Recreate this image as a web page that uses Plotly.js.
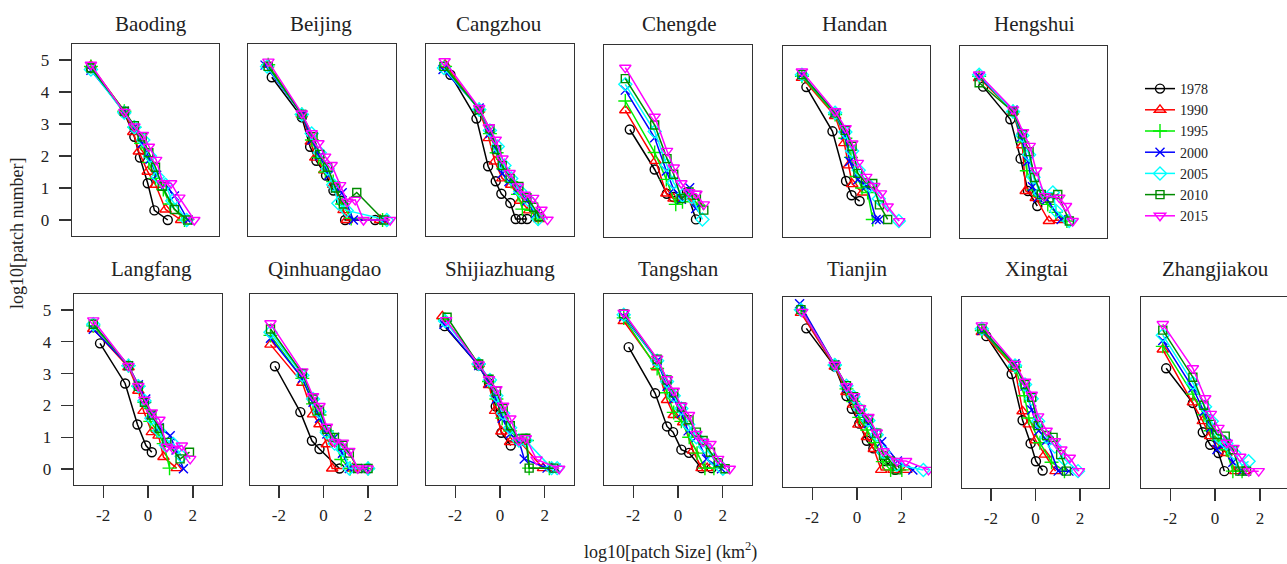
<!DOCTYPE html>
<html>
<head>
<meta charset="utf-8">
<script src="https://cdn.plot.ly/plotly-3.0.1.min.js"></script>
<style>html,body{margin:0;padding:0;background:#fff;}#chart{width:1287px;height:564px;}</style>
</head>
<body>
<div id="chart"></div>
<script>
// ---------------- DATA ----------------
const years = ['1978','1990','1995','2000','2005','2010','2015'];
const cities = ['Baoding','Beijing','Cangzhou','Chengde','Handan','Hengshui',
  'Langfang','Qinhuangdao','Shijiazhuang','Tangshan','Tianjin','Xingtai','Zhangjiakou'];
const xTickVals = [-2, 0, 2];
const xTickText = ['-2', '0', '2'];
const yTickVals = [0, 1, 2, 3, 4, 5];
const yTickText = ['0', '1', '2', '3', '4', '5'];

// per city: one x array and one y array per year (1978..2015)
const baodingX = [
  [-2.45,-0.95,-0.5,-0.25,0.1,0.4,1.0],
  [-2.45,-0.95,-0.55,-0.3,0.1,0.45,0.9,1.6],
  [-2.45,-0.95,-0.5,-0.2,0.15,0.45,0.8,1.1,1.75],
  [-2.45,-0.95,-0.5,-0.15,0.2,0.5,0.9,1.3,1.9],
  [-2.45,-0.95,-0.5,-0.1,0.2,0.55,0.9,1.2,1.85],
  [-2.45,-0.95,-0.5,-0.15,0.15,0.45,0.75,1.3,1.9],
  [-2.45,-0.95,-0.5,-0.12,0.15,0.48,0.78,1.15,1.52,2.19]];
const baodingY = [
  [4.75,3.35,2.6,1.95,1.15,0.3,0],
  [4.82,3.4,2.75,2.14,1.51,1.1,0.33,0],
  [4.8,3.4,2.9,2.4,1.8,1.3,0.95,0.5,0],
  [4.68,3.4,2.9,2.4,1.9,1.4,1.1,0.75,0],
  [4.7,3.35,2.9,2.5,2.0,1.35,1.1,0.6,0],
  [4.75,3.4,2.95,2.6,2.1,1.65,1.05,0.33,0],
  [4.85,3.38,2.92,2.66,2.29,1.88,1.15,1.15,0.7,0]];

const beijingX = [
  [-2.24,-0.9,-0.53,-0.25,0.18,0.51,0.85,1.03,2.37],
  [-2.4,-0.9,-0.5,-0.3,0.1,0.5,0.96,1.1,2.59],
  [-2.4,-0.9,-0.45,-0.15,0.15,0.5,0.9,1.3,2.7],
  [-2.54,-0.9,-0.45,-0.1,0.3,0.6,0.9,1.4,2.8],
  [-2.45,-0.9,-0.46,-0.1,0.25,0.5,0.73,1.1,2.89],
  [-2.4,-0.9,-0.4,-0.1,0.25,0.6,0.95,1.55,2.75],
  [-2.39,-0.9,-0.46,-0.16,0.14,0.43,0.81,1.13,1.48,1.85,3.04]];
const beijingY = [
  [4.46,3.21,2.29,1.85,1.39,0.92,0.6,0,0],
  [4.85,3.3,2.45,1.95,1.55,1.1,0.31,0,0],
  [4.85,3.3,2.5,1.95,1.5,1.2,0.5,0.05,0],
  [4.84,3.3,2.5,2.0,1.4,1.0,0.85,0,0],
  [4.8,3.3,2.7,2.1,1.6,1.1,0.52,0.3,0],
  [4.8,3.3,2.6,2.05,1.65,1.0,0.5,0.86,0],
  [4.95,3.33,2.71,2.4,1.98,1.72,1.09,0.57,0.63,0,0]];

const cangzhouX = [
  [-2.21,-1.05,-0.53,-0.19,0.06,0.46,0.7,0.96,1.21],
  [-2.45,-0.93,-0.5,-0.23,0.1,0.5,0.9,1.3,1.75],
  [-2.45,-0.93,-0.45,-0.15,0.15,0.5,0.8,1.0,1.4,1.7],
  [-2.54,-0.93,-0.45,-0.15,0.1,0.4,0.8,1.2,1.6],
  [-2.5,-0.93,-0.45,-0.1,0.2,0.5,0.9,1.3,1.7],
  [-2.5,-0.93,-0.45,-0.15,0.1,0.45,0.84,1.2,1.5,1.75],
  [-2.47,-0.93,-0.5,-0.19,0.11,0.43,0.8,1.1,1.48,1.85,2.12]];
const cangzhouY = [
  [4.54,3.17,1.68,1.21,0.82,0.53,0.03,0.03,0.03],
  [4.85,3.45,2.56,1.83,1.3,1.1,0.6,0.3,0.03],
  [4.8,3.45,2.7,2.1,1.6,1.2,0.8,0.34,0.3,0.03],
  [4.7,3.5,2.7,2.2,1.45,1.2,0.95,0.6,0.2],
  [4.75,3.45,2.8,2.3,1.7,1.3,0.9,0.6,0.03],
  [4.8,3.45,2.85,2.2,1.7,1.3,1.05,0.7,0.4,0.1],
  [4.96,3.5,2.9,2.51,1.92,1.47,1.05,0.79,0.69,0.32,0.01]];

const chengdeX = [
  [-2.15,-1.04,-0.5,-0.2,0.4,0.8],
  [-2.35,-1.0,-0.52,-0.2,0.3,0.8],
  [-2.35,-1.04,-0.52,-0.1,0.2,0.5,0.9],
  [-2.35,-1.04,-0.52,-0.2,0.15,0.52,0.79],
  [-2.35,-1.04,-0.5,-0.2,0.2,0.6,1.09],
  [-2.35,-1.04,-0.49,-0.19,0.15,0.49,0.82,1.15],
  [-2.35,-1.04,-0.49,-0.19,0.15,0.5,0.82,1.15]];
const chengdeY = [
  [2.86,1.61,0.85,0.75,0.9,0.05],
  [3.46,1.88,0.86,0.7,0.75,0.6],
  [3.75,2.14,1.3,0.52,0.6,0.85,0.5],
  [4.09,2.6,1.56,1.0,0.68,1.04,0.39],
  [4.27,2.8,1.75,1.2,0.8,0.75,0.05],
  [4.45,3.0,1.95,1.46,0.7,0.91,0.8,0.34],
  [4.79,3.26,2.19,1.67,1.18,0.9,0.85,0.52]];

const handanX = [
  [-2.25,-1.08,-0.47,-0.22,0.14],
  [-2.45,-0.96,-0.55,-0.35,-0.19,0.29],
  [-2.45,-0.96,-0.5,-0.25,0.0,0.25,0.5,0.73],
  [-2.45,-0.96,-0.5,-0.31,0.06,0.45,0.88,1.03],
  [-2.45,-0.96,-0.5,-0.2,0.1,0.6,1.0,1.9],
  [-2.45,-0.96,-0.5,-0.2,0.06,0.4,0.73,1.03,1.4],
  [-2.45,-0.96,-0.49,-0.19,0.06,0.44,0.8,1.1,1.4,1.92]];
const handanY = [
  [4.21,2.82,1.26,0.81,0.63],
  [4.5,3.3,2.45,1.75,1.16,0.9],
  [4.55,3.35,2.6,2.0,1.4,1.04,0.9,0.05],
  [4.6,3.4,2.7,1.87,1.3,1.1,0.05,0.05],
  [4.6,3.4,2.8,2.2,1.6,1.1,0.7,0],
  [4.6,3.4,2.85,2.35,1.5,1.2,1.18,0.51,0.05],
  [4.7,3.45,2.92,2.44,1.83,1.39,1.1,0.87,0.46,0]];

const hengshuiX = [
  [-2.26,-1.04,-0.58,-0.25,0.17],
  [-2.44,-0.92,-0.5,-0.35,0.1,0.69,1.16],
  [-2.44,-0.92,-0.5,-0.3,0.0,0.3,0.64,1.0,1.5],
  [-2.44,-0.92,-0.55,-0.25,-0.05,0.2,0.6,1.24],
  [-2.44,-0.92,-0.5,-0.2,0.0,0.3,0.87,1.02,1.6],
  [-2.44,-0.92,-0.5,-0.2,0.05,0.35,0.7,1.09,1.61],
  [-2.44,-0.92,-0.47,-0.17,0.12,0.5,1.16,1.46,1.76]];
const hengshuiY = [
  [4.23,3.21,1.98,0.97,0.5],
  [4.5,3.45,2.4,0.97,0.75,0.03,0.06],
  [4.55,3.45,2.5,1.6,1.0,0.8,0.55,0.3,0.03],
  [4.55,3.5,2.65,1.9,1.1,0.76,0.7,0.08],
  [4.6,3.45,2.7,2.1,1.4,0.9,0.92,0.34,0.03],
  [4.35,3.45,2.75,2.2,1.39,0.86,0.75,0.86,0.03],
  [4.61,3.52,2.81,2.38,1.61,0.81,0.76,0.5,0.03]];

const langfangX = [
  [-2.14,-1.02,-0.47,-0.09,0.17],
  [-2.44,-0.87,-0.43,-0.2,0.17,0.47,0.69,1.28],
  [-2.44,-0.87,-0.43,-0.16,0.1,0.4,0.7,0.96],
  [-2.44,-0.87,-0.43,-0.1,0.15,0.5,0.99,1.25,1.58],
  [-2.44,-0.87,-0.43,-0.16,0.15,0.5,0.8,1.13,1.5],
  [-2.44,-0.87,-0.43,-0.16,0.17,0.51,0.84,1.43,1.85],
  [-2.44,-0.87,-0.43,-0.16,0.17,0.51,0.84,1.13,1.51,1.88]];
const langfangY = [
  [3.95,2.69,1.4,0.74,0.53],
  [4.4,3.2,2.46,1.83,1.16,1.05,0.38,0.03],
  [4.5,3.25,2.6,2.1,1.5,1.2,0.8,0.03],
  [4.39,3.25,2.65,2.2,1.7,1.3,1.05,0.6,0.01],
  [4.55,3.25,2.6,2.15,1.6,1.2,0.75,0.79,0.4],
  [4.55,3.25,2.6,2.1,1.7,1.28,0.84,0.32,0.53],
  [4.67,3.24,2.61,2.18,1.78,1.55,0.7,0.64,0.74,0.32]];

const qinhuangdaoX = [
  [-2.18,-1.04,-0.52,-0.18,0.72],
  [-2.38,-0.95,-0.47,-0.18,0.15,0.39,1.3],
  [-2.38,-0.95,-0.47,-0.18,0.15,0.5,0.8,1.2,2.0],
  [-2.38,-0.95,-0.47,-0.18,0.15,0.5,0.85,1.16,1.9],
  [-2.38,-0.95,-0.47,-0.18,0.15,0.5,0.87,1.16,2.0],
  [-2.38,-0.95,-0.47,-0.18,0.15,0.49,0.87,1.16,1.54,2.0],
  [-2.38,-0.95,-0.47,-0.18,0.15,0.5,0.87,1.16,1.54,1.98]];
const qinhuangdaoY = [
  [3.23,1.79,0.89,0.63,0.02],
  [3.91,2.71,1.72,1.41,0.78,0.02,0.02],
  [4.2,2.85,2.05,1.7,1.2,0.9,0.3,0.02,0.02],
  [4.11,2.85,2.1,1.6,1.1,1.0,0.5,0.02,0.02],
  [4.3,2.95,2.2,1.8,1.15,0.8,0.6,0.02,0.02],
  [4.4,3.0,2.2,1.85,1.25,0.99,0.75,0.5,0.02,0.02],
  [4.58,3.07,2.29,1.98,1.33,0.85,0.83,0.57,0.02,0.02]];

const shijiazhuangX = [
  [-2.47,-0.95,-0.49,-0.19,0.06,0.48],
  [-2.57,-0.95,-0.49,-0.22,0.06,0.45,0.9,1.92,2.3],
  [-2.45,-0.95,-0.49,-0.16,0.1,0.45,0.9,1.2,1.3,2.2],
  [-2.5,-0.95,-0.49,-0.16,0.1,0.45,0.84,1.08,2.1,2.5],
  [-2.45,-0.95,-0.45,-0.16,0.14,0.45,0.84,1.15,2.3,2.55],
  [-2.36,-0.95,-0.49,-0.16,0.14,0.46,0.84,1.15,1.3,2.4],
  [-2.4,-0.95,-0.49,-0.16,0.14,0.46,0.84,1.15,1.63,2.64]];
const shijiazhuangY = [
  [4.49,3.25,2.7,1.97,1.14,0.74],
  [4.8,3.3,2.64,1.83,1.18,0.85,0.85,0.03,0.03],
  [4.7,3.3,2.75,2.2,1.6,1.2,0.9,0.9,0.03,0.03],
  [4.55,3.25,2.7,2.2,1.6,1.1,0.9,0.32,0.03,0.03],
  [4.65,3.3,2.8,2.3,1.75,1.3,0.9,0.9,0.03,0.03],
  [4.77,3.3,2.82,2.45,1.9,1.36,0.95,0.97,0.03,0.03],
  [4.68,3.29,2.82,2.51,1.99,1.59,0.9,0.97,0.3,0.01]];

const tangshanX = [
  [-2.2,-1.02,-0.49,-0.22,0.15,0.49,1.05,1.5],
  [-2.42,-0.93,-0.49,-0.19,0.23,0.67,1.05,1.3],
  [-2.42,-0.93,-0.49,-0.19,0.15,0.5,0.85,1.2,1.6],
  [-2.42,-0.93,-0.49,-0.19,0.15,0.45,0.82,1.27,1.94],
  [-2.42,-0.93,-0.49,-0.19,0.15,0.45,0.82,1.2,1.6,2.0],
  [-2.42,-0.93,-0.49,-0.19,0.15,0.49,0.82,1.12,1.45,1.8,2.1],
  [-2.42,-0.93,-0.49,-0.19,0.15,0.49,0.82,1.12,1.45,1.79,2.31]];
const tangshanY = [
  [3.83,2.38,1.34,1.16,0.61,0.51,0.03,0.03],
  [4.65,3.2,2.17,1.7,1.47,0.58,0.03,0.03],
  [4.75,3.16,2.4,1.78,1.5,1.0,0.5,0.03,0.03],
  [4.8,3.4,2.6,2.2,1.75,1.2,1.0,0.32,0.01],
  [4.85,3.4,2.75,2.3,1.9,1.4,1.0,0.7,0.3,0.01],
  [4.88,3.45,2.8,2.4,1.95,1.55,1.16,0.9,0.53,0.2,0.01],
  [4.91,3.47,2.82,2.46,1.99,1.7,1.1,0.86,0.79,0.32,0.01]];

const tianjinX = [
  [-2.26,-0.99,-0.47,-0.23,0.1,0.44,0.73,1.25,1.7],
  [-2.5,-0.99,-0.47,-0.17,0.06,0.44,0.75,1.08,1.63,2.2],
  [-2.5,-0.99,-0.47,-0.17,0.1,0.45,0.8,1.15,1.5,2.0],
  [-2.56,-0.99,-0.47,-0.17,0.14,0.5,0.8,1.1,1.8,2.49],
  [-2.5,-0.99,-0.47,-0.15,0.14,0.51,0.88,1.18,1.78,2.96],
  [-2.5,-0.99,-0.47,-0.15,0.14,0.51,0.88,1.18,1.48,1.78],
  [-2.44,-0.99,-0.46,-0.13,0.14,0.51,0.88,1.18,1.78,2.19,3.19]];
const tianjinY = [
  [4.51,3.3,2.37,1.97,1.5,0.96,0.72,0.32,0.04],
  [5.0,3.3,2.5,2.1,1.47,1.08,0.7,0.04,0.04,0.04],
  [5.1,3.35,2.6,2.2,1.7,1.3,0.9,0.3,0.04,0.04],
  [5.29,3.36,2.65,2.3,1.85,1.5,1.2,0.93,0.32,0.04],
  [5.1,3.35,2.7,2.35,1.95,1.6,1.15,0.6,0.2,0.04],
  [5.1,3.35,2.7,2.35,1.95,1.65,1.2,0.5,0.32,0.04],
  [5.03,3.36,2.68,2.37,1.99,1.71,1.22,0.63,0.32,0.32,0.04]];

const xingtaiX = [
  [-2.21,-1.07,-0.58,-0.22,0.02,0.32],
  [-2.41,-0.92,-0.58,-0.3,0.0,0.42,0.9],
  [-2.41,-0.92,-0.5,-0.3,0.2,0.72,1.3],
  [-2.41,-0.92,-0.47,-0.17,0.15,0.5,1.02,1.5],
  [-2.41,-0.92,-0.47,-0.17,0.12,0.5,0.87,1.3,1.91],
  [-2.41,-0.92,-0.47,-0.17,0.12,0.5,0.79,1.13,1.39],
  [-2.41,-0.92,-0.47,-0.17,0.12,0.5,0.87,1.16,1.54,1.95]];
const xingtaiY = [
  [4.27,3.08,1.63,0.9,0.34,0.05],
  [4.4,3.25,1.91,1.5,1.0,0.55,0.03],
  [4.45,3.3,2.4,1.7,0.92,0.31,0.03],
  [4.45,3.4,2.7,1.95,1.3,1.0,0.03,0.03],
  [4.5,3.35,2.75,2.3,1.6,1.1,0.8,0.4,0.03],
  [4.5,3.35,2.75,2.35,1.46,1.15,1.09,0.55,0.03],
  [4.61,3.4,2.84,2.43,1.75,1.3,0.97,0.71,0.45,0.03]];

const zhangjiakouX = [
  [-2.18,-0.99,-0.55,-0.22,0.15,0.41],
  [-2.33,-0.99,-0.55,-0.22,0.15,0.5,0.9,1.3],
  [-2.33,-0.99,-0.5,-0.2,0.15,0.5,0.79,1.2],
  [-2.33,-0.99,-0.5,-0.2,0.08,0.5,0.79,1.2],
  [-2.33,-0.99,-0.45,-0.15,0.15,0.5,0.85,1.2,1.49],
  [-2.33,-0.99,-0.5,-0.19,0.08,0.45,0.8,1.1,1.4],
  [-2.33,-0.99,-0.44,-0.19,0.15,0.52,0.82,1.12,1.5,1.94]];
const zhangjiakouY = [
  [3.26,2.17,1.25,0.86,0.6,0.03],
  [3.85,2.19,1.6,1.13,0.86,0.6,0.03,0.03],
  [3.95,2.45,1.8,1.3,1.0,0.7,0.03,0.03],
  [4.13,2.64,1.9,1.4,0.71,0.9,0.31,0.03],
  [4.3,2.8,2.05,1.6,1.1,0.9,0.6,0.2,0.34],
  [4.46,2.98,2.1,1.5,1.18,1.13,0.7,0.03,0.03],
  [4.65,3.26,2.32,1.83,1.39,0.92,0.76,0.48,0.03,0.03]];

// ---------------- STYLE / LAYOUT ----------------
const W = 1287, H = 564;
const FONT = 'Liberation Serif, Times New Roman, serif';
const colors = ['#000000','#FF0000','#00EE00','#0000FF','#00FFFF','#008B00','#FF00FF'];
const symbols = ['circle-open','triangle-up-open','cross-thin-open','x-thin-open','diamond-open','square-open','triangle-down-open'];
const msizes = [9,10,10,9,10,8,10];

const dataX = [baodingX,beijingX,cangzhouX,chengdeX,handanX,hengshuiX,
  langfangX,qinhuangdaoX,shijiazhuangX,tangshanX,tianjinX,xingtaiX,zhangjiakouX];
const dataY = [baodingY,beijingY,cangzhouY,chengdeY,handanY,hengshuiY,
  langfangY,qinhuangdaoY,shijiazhuangY,tangshanY,tianjinY,xingtaiY,zhangjiakouY];

// panel boxes in pixels: [left, top, right, bottom]
const boxes = [
  [72,44,219,236],[248,44,396,236],[426,44,574,236],[604,45,752,237],[783,46,930,237],[960,46,1107,238],
  [74,294,222,485],[250,294,397,485],[426,294,574,485],[604,294,752,485],[783,297,931,487],[962,297,1109,488],[1141,297,1287,488]
];
const titleX = [151,321,499,679,855,1034, 151,324,500,678,857,1036,1215];

const traces = [];
const layout = {
  width: W, height: H,
  margin: {l:0, r:0, t:0, b:0},
  paper_bgcolor: '#fff', plot_bgcolor: '#fff',
  font: {family: FONT, color: '#222'},
  showlegend: true,
  legend: {
    x: 1140/W, y: 1 - 73/H, xanchor: 'left', yanchor: 'top',
    font: {family: FONT, size: 14, color: '#222'},
    bgcolor: 'rgba(0,0,0,0)', borderwidth: 0, tracegroupgap: 0,
    itemwidth: 30
  },
  annotations: [],
  hovermode: false
};

cities.forEach((city, p) => {
  const n = p + 1;
  const sx = n === 1 ? '' : String(n);
  const [L, T, R, B] = boxes[p];
  const bottomRow = p >= 6;
  const firstCol = p === 0 || p === 6;
  const xmax = (p === 12) ? 3.2 : 3.3;
  layout['xaxis' + sx] = {
    domain: [L / W, R / W], range: [-3.3, xmax], anchor: 'y' + sx,
    showline: true, mirror: true, linecolor: '#333', linewidth: 1.3,
    showgrid: false, zeroline: false,
    ticks: bottomRow ? 'outside' : '', ticklen: 12, tickwidth: 1.3, tickcolor: '#333',
    tickvals: xTickVals, ticktext: xTickText, showticklabels: bottomRow,
    tickfont: {family: FONT, size: 17, color: '#222'}, ticklabelstandoff: 2,
    fixedrange: true
  };
  layout['yaxis' + sx] = {
    domain: [1 - B / H, 1 - T / H], range: [-0.5, 5.5], anchor: 'x' + sx,
    showline: true, mirror: true, linecolor: '#333', linewidth: 1.3,
    showgrid: false, zeroline: false,
    ticks: firstCol ? 'outside' : '', ticklen: 12, tickwidth: 1.3, tickcolor: '#333',
    tickvals: yTickVals, ticktext: yTickText, showticklabels: firstCol,
    tickfont: {family: FONT, size: 17, color: '#222'}, ticklabelstandoff: 6,
    fixedrange: true
  };
  layout.annotations.push({
    text: city, xref: 'paper', yref: 'paper',
    x: titleX[p] / W, y: 1 - (bottomRow ? 269 : 24) / H,
    xanchor: 'center', yanchor: 'middle', showarrow: false,
    font: {family: FONT, size: 21, color: '#222'}
  });
  years.forEach((yr, k) => {
    traces.push({
      type: 'scatter', mode: 'lines+markers',
      x: dataX[p][k], y: dataY[p][k],
      xaxis: 'x' + sx, yaxis: 'y' + sx,
      name: yr, legendgroup: yr, showlegend: p === 0,
      line: {color: colors[k], width: 1.5},
      marker: {symbol: symbols[k], size: msizes[k], color: colors[k], line: {color: colors[k], width: 1.4}},
      cliponaxis: true
    });
  });
});

layout.annotations.push({
  text: 'log10[patch number]', xref: 'paper', yref: 'paper',
  x: 17 / W, y: 1 - 234 / H, xanchor: 'center', yanchor: 'middle',
  textangle: -90, showarrow: false, font: {family: FONT, size: 18, color: '#222'}
});
layout.annotations.push({
  text: 'log10[patch Size] (km<sup>2</sup>)', xref: 'paper', yref: 'paper',
  x: 670 / W, y: 1 - 551 / H, xanchor: 'center', yanchor: 'middle',
  showarrow: false, font: {family: FONT, size: 18, color: '#222'}
});

Plotly.newPlot('chart', traces, layout, {staticPlot: true, displayModeBar: false});
</script>
</body>
</html>
